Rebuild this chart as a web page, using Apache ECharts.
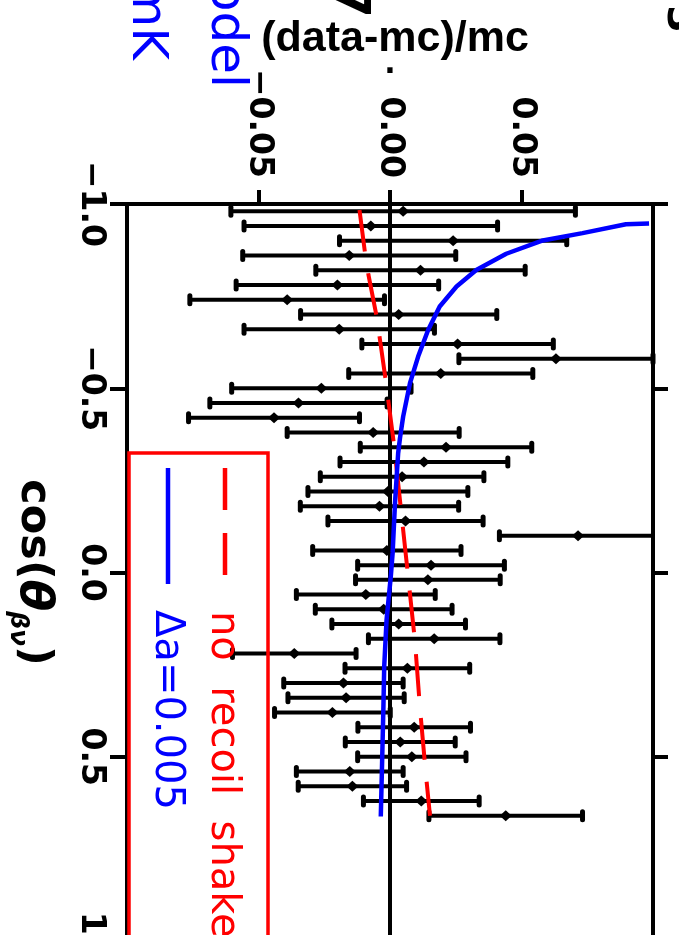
<!DOCTYPE html>
<html><head><meta charset="utf-8">
<script src="https://cdn.jsdelivr.net/npm/echarts@6/dist/echarts.min.js"></script>
<style>html,body{margin:0;padding:0;background:#fff}#c{width:679px;height:935px}</style>
</head><body><div id="c"></div>
<script>
// bin centres of cos(theta_beta-nu)
const cosBins = [-0.98,-0.94,-0.90,-0.86,-0.82,-0.78,-0.74,-0.70,-0.66,-0.62,
                 -0.58,-0.54,-0.50,-0.46,-0.42,-0.38,-0.34,-0.30,-0.26,-0.22,
                 -0.18,-0.14,-0.10,-0.06,-0.02,0.02,0.06,0.10,0.14,0.18,
                 0.22,0.26,0.30,0.34,0.38,0.42,0.46,0.50,0.54,0.58,0.62,0.66];
// (data-mc)/mc
const ratio = [0.0050,-0.0073,0.0240,-0.0155,0.0116,-0.0200,-0.0391,0.0033,-0.0193,0.0257,
               0.0631,0.0193,-0.0261,-0.0348,-0.0441,-0.0064,0.0213,0.0129,0.0046,-0.0008,
               -0.0040,0.0059,0.0715,-0.0012,0.0156,0.0144,-0.0092,-0.0024,0.0033,0.0168,
               -0.0364,0.0066,-0.0177,-0.0167,-0.0219,0.0092,0.0039,0.0083,-0.0153,-0.0143,
               0.0119,0.0440];
const ratioErr = [0.0655,0.0482,0.0432,0.0405,0.0398,0.0385,0.0370,0.0373,0.0362,0.0364,
                  0.0369,0.0350,0.0341,0.0337,0.0325,0.0327,0.0326,0.0319,0.0311,0.0304,
                  0.0301,0.0295,0.0299,0.0282,0.0279,0.0275,0.0264,0.0260,0.0254,0.0250,
                  0.0235,0.0237,0.0227,0.0221,0.0220,0.0214,0.0209,0.0206,0.0203,0.0206,
                  0.0220,0.0292];
// model: no recoil shake (red dashed)
const noShakeCos = [-0.984,-0.867,-0.808,-0.692,-0.631,-0.515,-0.342,0.011,0.187,0.368,0.544,0.660];
const noShakeVal = [-0.0116,-0.0095,-0.0082,-0.0050,-0.0038,-0.0015,0.0016,0.0069,0.0095,0.0114,0.0136,0.0152];
// model: delta a = 0.005 (blue)
const daCos = [-0.947,-0.945,-0.921,-0.901,-0.865,-0.821,-0.776,-0.722,-0.658,-0.586,-0.514,
               -0.423,-0.365,-0.324,-0.188,-0.053,0.011,0.128,0.255,0.364,0.544,0.662];
const daVal = [0.0985,0.0897,0.0732,0.0581,0.0442,0.0328,0.0253,0.0189,0.0145,0.0107,0.0076,
               0.0050,0.0038,0.0031,0.0019,0.0010,0.0003,-0.0013,-0.0022,-0.0025,-0.0031,-0.0035];
const xTicks = {min:-0.1, max:0.1, step:0.05};
const yTicks = {min:-1, max:1, step:0.5};
const xTitle = '(data-mc)/mc';
const legendRed = 'no  recoil  shake';
const legendBlue = '\u0394a=0.005';

const chart = echarts.init(document.getElementById('c'), null, {renderer:'canvas'});
const F = 'DejaVu Sans';
const blk = '#000';
const lab = {fontFamily:F, fontSize:33, fontWeight:'bold', color:blk};

function rot(text, x, y, size, color, align, weight){
  return {type:'text', x:x, y:y, rotation:-Math.PI/2, z:100,
    style:{text:text, fill:color, font:(weight||'normal')+' '+size+'px "'+F+'"', align:align, verticalAlign:'middle'}};
}

chart.setOption({
  animation:false,
  backgroundColor:'#fff',
  grid:{left:127, top:204, width:526, height:737, show:false, containLabel:false, outerBoundsMode:'none'},
  xAxis:[{type:'value', position:'top', min:xTicks.min, max:xTicks.max, interval:xTicks.step,
    axisLine:{show:true, onZero:false, lineStyle:{color:blk, width:4}},
    axisTick:{show:true, inside:false, length:14, lineStyle:{color:blk, width:4}},
    axisLabel:Object.assign({rotate:90, margin:26, showMinLabel:false, showMaxLabel:false,
      formatter:v=>(Math.abs(v)<1e-9?0:v).toFixed(2).replace('-', '\u2212')}, lab),
    splitLine:{show:false},
    name:xTitle, nameLocation:'middle', nameGap:140,
    nameTextStyle:{fontFamily:'Liberation Sans', fontSize:43, fontWeight:'bold', color:blk, verticalAlign:'bottom', padding:[0,0,0,10]}
  }],
  yAxis:[{type:'value', position:'left', inverse:true, min:yTicks.min, max:yTicks.max, interval:yTicks.step,
    axisLine:{show:true, onZero:false, lineStyle:{color:blk, width:4}},
    axisTick:{show:true, inside:false, length:17, lineStyle:{color:blk, width:4}},
    axisLabel:Object.assign({rotate:-90, margin:20,
      formatter:v=>(Math.abs(v)<1e-9?0:v).toFixed(1).replace('-', '\u2212')}, lab),
    splitLine:{show:false},
    name:'{n|cos(}{t|\u03b8}{s|\u03b2\u03bd}{n|)}', nameLocation:'middle', nameGap:66, nameRotate:-90,
    nameTextStyle:{color:blk, rich:{
      n:{fontFamily:F, fontSize:43, fontWeight:'bold', color:blk, lineHeight:56},
      t:{fontFamily:F, fontSize:46, fontStyle:'italic', fontWeight:'bold', color:blk, lineHeight:56},
      s:{fontFamily:F, fontSize:25, fontStyle:'italic', fontWeight:'bold', color:blk, lineHeight:22, verticalAlign:'bottom'}
    }}
  },{type:'value', position:'right', inverse:true, min:yTicks.min, max:yTicks.max, interval:yTicks.step,
    axisLine:{show:true, onZero:false, lineStyle:{color:blk, width:4}},
    axisTick:{show:true, inside:false, length:15, lineStyle:{color:blk, width:4}},
    axisLabel:{show:false}, splitLine:{show:false}
  }],
  series:[{
    type:'custom', xAxisIndex:0, yAxisIndex:0, z:2,
    data:cosBins.map((c,i)=>[ratio[i], c, ratioErr[i]]),
    encode:{x:0, y:1},
    renderItem:function(params, api){
      const v = api.value(0), c = api.value(1), e = api.value(2);
      const lo = Math.max(v-e, xTicks.min), hi = Math.min(v+e, xTicks.max);
      const pL = api.coord([lo, c]), pR = api.coord([hi, c]), pC = api.coord([v, c]);
      const st = {stroke:blk, lineWidth:4};
      const ch = [{type:'line', shape:{x1:pL[0], y1:pL[1], x2:pR[0], y2:pR[1]}, style:st}];
      const capSt = {stroke:blk, lineWidth:5, lineCap:'round'};
      if (v-e >= xTicks.min) ch.push({type:'line', shape:{x1:pL[0], y1:pL[1]-4, x2:pL[0], y2:pL[1]+4}, style:capSt});
      if (v+e <= xTicks.max) ch.push({type:'line', shape:{x1:pR[0], y1:pR[1]-4, x2:pR[0], y2:pR[1]+4}, style:capSt});
      ch.push({type:'polygon', shape:{points:[[pC[0]-6,pC[1]],[pC[0],pC[1]-5.5],[pC[0]+6,pC[1]],[pC[0],pC[1]+5.5]]}, style:{fill:blk}});
      return {type:'group', children:ch};
    },
    markLine:{silent:true, symbol:['none','none'], label:{show:false},
      lineStyle:{color:blk, width:4, type:'solid'}, data:[{xAxis:0}]}
  },{
    type:'line', xAxisIndex:0, yAxisIndex:0, z:5, showSymbol:false, symbol:'none',
    data:noShakeCos.map((c,i)=>[noShakeVal[i], c]),
    lineStyle:{color:'#ff0000', width:4, type:[42,22]}
  },{
    type:'line', xAxisIndex:0, yAxisIndex:0, z:6, showSymbol:false, symbol:'none',
    data:daCos.map((c,i)=>[daVal[i], c]),
    lineStyle:{color:'#0000ff', width:4.5}
  }],
  graphic:[
    {type:'rect', shape:{x:129, y:453, width:139, height:600}, style:{stroke:'#ff0000', lineWidth:3.5, fill:null}, z:50},
    {type:'line', shape:{x1:168, y1:468, x2:168, y2:584}, style:{stroke:'#0000ff', lineWidth:4.5}, z:50},
    {type:'line', shape:{x1:225, y1:468, x2:225, y2:577}, style:{stroke:'#ff0000', lineWidth:4.5, lineDash:[42,23]}, z:50},
    rot(legendBlue, 166, 610, 40, '#0000ff', 'left'),
    rot(legendRed, 222, 611, 40, '#ff0000', 'left'),
    rot('model', 225, 88, 50, '#0000ff', 'right'),
    rot('mK', 146, 60, 50, '#0000ff', 'right'),
    rot('7', 348, 18, 50, blk, 'right', 'bold'),
    rot('3', 678, 33, 40, blk, 'right', 'bold'),
    {type:'text', x:390, y:80, z:100, style:{text:'.', fill:blk, font:'bold 30px "'+F+'"', align:'center', verticalAlign:'bottom'}}
  ]
});
</script></body></html>
